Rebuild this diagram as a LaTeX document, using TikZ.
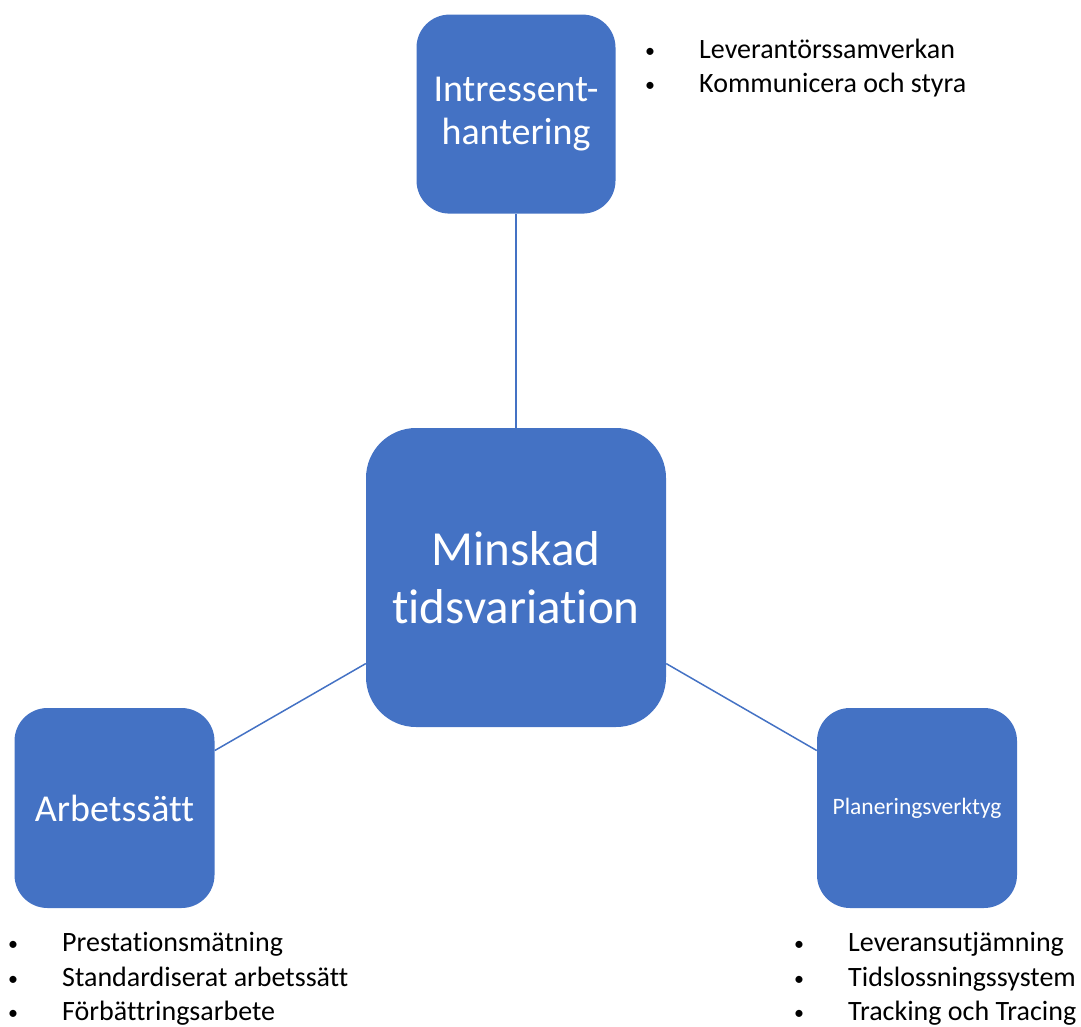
\documentclass[tikz,border=0pt]{standalone}
\usepackage{fontspec}
\setmainfont{Carlito}[Ligatures=NoCommon]
\usepackage{xcolor}
\usetikzlibrary{positioning}
\definecolor{officeblue}{HTML}{4472C4}
\newcommand{\itm}{\makebox[54pt][l]{\raisebox{1pt}{\fontsize{20}{20}\selectfont\textbullet}}}
\tikzset{
  topic/.style={rectangle, rounded corners=#1, fill=officeblue,
                text=white, align=center, inner sep=0pt},
  topic/.default=33pt,
  link/.style={draw=officeblue, line width=1.5pt},
  points/.style={anchor=west, inner sep=0pt, align=left,
                 font=\fontsize{28}{34.5}\selectfont},
}
\begin{document}
\begin{tikzpicture}[x=1pt, y=-1pt]
  \useasboundingbox (0,0) rectangle (1081,1027);
  %% centre
  \node[topic=50pt, minimum width=300pt, minimum height=299pt,
        font=\fontsize{49}{58}\selectfont] (mid) at (516,577.5)
        {Minskad\\tidsvariation};
  %% the three areas
  \node[topic, minimum size=199pt, font=\fontsize{38}{43}\selectfont,
        above=214pt of mid] (intr) {Intressent-\\hantering};
  \node[topic, minimum size=200pt, font=\fontsize{38}{43}\selectfont]
        (arb) at (114.5,808) {Arbetssätt};
  \node[topic, minimum size=200pt, font=\fontsize{23.5}{27}\selectfont]
        (plan) at (917,808) {Planeringsverktyg};
  \foreach \b in {intr,arb,plan}
    \draw[link] (mid) -- (\b);
  %% bullet lists
  \node[points] (intrlist) at (645,68)
    {\itm Leverantörssamverkan\\ \itm Kommunicera och styra};
  \node[points] (arblist) at (8,979)
    {\itm Prestationsmätning\\ \itm Standardiserat arbetssätt\\ \itm Förbättringsarbete};
  \node[points] (planlist) at (794,979)
    {\itm Leveransutjämning\\ \itm Tidslossningssystem\\ \itm Tracking och Tracing};
\end{tikzpicture}
\end{document}
